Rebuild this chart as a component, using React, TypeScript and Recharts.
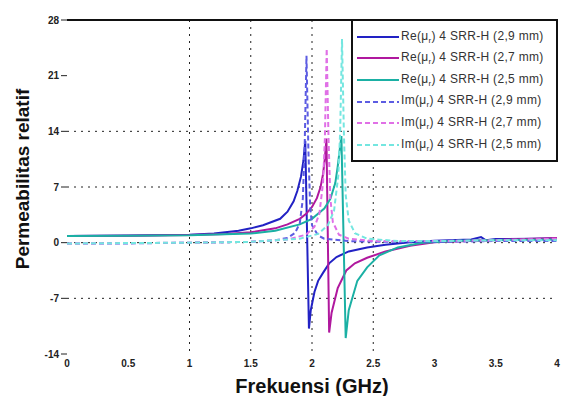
import { LineChart, Line, XAxis, YAxis, CartesianGrid, ReferenceLine } from 'recharts'

// frequency (GHz) / value pairs
const reBlueF = [0, 0.5, 1.0, 1.2, 1.4, 1.5, 1.6, 1.74, 1.8, 1.85, 1.88, 1.91, 1.93, 1.945, 1.975, 1.99, 2.02, 2.05, 2.09, 2.14, 2.2, 2.3, 2.45, 2.6, 2.8, 3.0, 3.3, 3.38, 3.42, 3.5, 3.8, 4.0]
const reBlueV = [0.85, 0.9, 1.0, 1.15, 1.5, 1.8, 2.2, 3.0, 3.9, 5.2, 6.5, 8.3, 10.3, 12.8, -10.8, -8.5, -6.2, -4.8, -3.8, -2.6, -1.8, -1.1, -0.6, -0.25, 0.05, 0.25, 0.4, 0.7, 0.3, 0.45, 0.5, 0.55]

const reMagF = [0, 0.5, 1.0, 1.3, 1.5, 1.7, 1.8, 1.9, 1.95, 2.0, 2.04, 2.07, 2.09, 2.105, 2.118, 2.14, 2.16, 2.21, 2.28, 2.35, 2.45, 2.6, 2.8, 3.0, 3.5, 4.0]
const reMagV = [0.85, 0.88, 0.95, 1.1, 1.3, 1.8, 2.3, 3.0, 3.6, 4.5, 5.6, 7.0, 8.6, 10.6, 13.1, -11.3, -8.8, -5.7, -3.5, -2.6, -1.9, -1.1, -0.4, 0.05, 0.35, 0.6]

const reCyanF = [0, 0.5, 1.0, 1.5, 1.7, 1.9, 2.0, 2.1, 2.15, 2.19, 2.21, 2.225, 2.24, 2.275, 2.3, 2.37, 2.45, 2.55, 2.7, 2.9, 3.2, 3.6, 4.0]
const reCyanV = [0.85, 0.88, 0.92, 1.15, 1.5, 2.3, 3.0, 4.3, 5.5, 7.5, 9.6, 11.5, 13.4, -12.0, -8.5, -4.8, -3.1, -1.6, -0.6, 0, 0.25, 0.35, 0.4]

const imBlueF = [0, 0.5, 1.0, 1.5, 1.7, 1.8, 1.86, 1.9, 1.925, 1.94, 1.955, 1.97, 1.985, 2.0, 2.05, 2.1, 2.3, 2.6, 3.0, 3.5, 4.0]
const imBlueV = [-0.1, -0.1, 0, 0.1, 0.3, 0.6, 1.2, 2.4, 5.5, 12, 23.5, 12, 4.5, 2.2, 0.9, 0.5, 0.2, 0.1, 0.1, 0.2, 0.2]

const imMagF = [0, 1.0, 1.5, 1.8, 1.95, 2.02, 2.06, 2.09, 2.105, 2.12, 2.135, 2.15, 2.17, 2.22, 2.3, 2.5, 3.0, 3.5, 4.0]
const imMagV = [-0.1, 0, 0.1, 0.4, 1.0, 2.0, 3.6, 7.5, 13, 24.4, 13, 5.5, 2.6, 1.0, 0.5, 0.2, 0.2, 0.3, 0.5]

const imCyanF = [0, 1.0, 1.5, 1.9, 2.05, 2.13, 2.18, 2.215, 2.23, 2.245, 2.26, 2.275, 2.3, 2.35, 2.45, 2.7, 3.0, 3.5, 4.0]
const imCyanV = [-0.1, 0, 0.1, 0.5, 1.1, 2.2, 4.0, 8.5, 14, 25.6, 14, 6.0, 2.8, 1.2, 0.5, 0.2, 0.2, 0.3, 0.3]

const xTicks = [0, 0.5, 1, 1.5, 2, 2.5, 3, 3.5, 4]
const yTicks = [-14, -7, 0, 7, 14, 21, 28]

const toRows = (f: number[], v: number[]) => f.map((x, i) => ({ f: x, v: v[i] }))

const SERIES = [
  { key: 'reB', part: 'Re', size: '2,9', data: toRows(reBlueF, reBlueV), color: '#2222c4', dash: undefined },
  { key: 'reM', part: 'Re', size: '2,7', data: toRows(reMagF, reMagV), color: '#b0189e', dash: undefined },
  { key: 'reC', part: 'Re', size: '2,5', data: toRows(reCyanF, reCyanV), color: '#1bb0a4', dash: undefined },
  { key: 'imB', part: 'Im', size: '2,9', data: toRows(imBlueF, imBlueV), color: '#5c5ce2', dash: '5 3' },
  { key: 'imM', part: 'Im', size: '2,7', data: toRows(imMagF, imMagV), color: '#e070e6', dash: '5 3' },
  { key: 'imC', part: 'Im', size: '2,5', data: toRows(imCyanF, imCyanV), color: '#74e6e0', dash: '5 3' },
]

const FONT = '"Liberation Sans", Arial, sans-serif'

// legend drawn as an overlay so the chart keeps its full plot height
function LegendBox() {
  return (
    <div
      style={{
        position: 'absolute',
        left: 351,
        top: 19,
        width: 207,
        border: '2px solid #111',
        background: '#fff',
        padding: '5px 2px 4px 4px',
        fontFamily: FONT,
        fontSize: 12,
        letterSpacing: 0.3,
        color: '#333',
        boxSizing: 'border-box',
      }}
    >
      {SERIES.map((s) => (
        <div key={s.key} style={{ display: 'flex', alignItems: 'center', height: 21.6 }}>
          <svg width={42} height={6} style={{ marginRight: 2, flexShrink: 0 }}>
            <line x1={0} y1={3} x2={42} y2={3} stroke={s.color} strokeWidth={2} strokeDasharray={s.dash} />
          </svg>
          <span style={{ whiteSpace: 'nowrap' }}>
            {s.part}(μ<sub style={{ fontSize: 8 }}>r</sub>) 4 SRR-H ({s.size} mm)
          </span>
        </div>
      ))}
    </div>
  )
}

export default function App() {
  return (
    <div style={{ position: 'absolute', left: 0, top: 0, width: 561, height: 396, background: '#fff' }}>
      <LineChart width={561} height={396} margin={{ top: 20, right: 4, bottom: 0, left: 0 }}>
        <CartesianGrid
          stroke="#222"
          strokeDasharray="2 5"
          horizontalValues={[14, 7, 0, -7]}
          verticalValues={[1, 1.5, 2, 2.5]}
        />
        <XAxis
          type="number"
          dataKey="f"
          domain={[0, 4]}
          ticks={xTicks}
          allowDuplicatedCategory={false}
          height={42}
          axisLine={false}
          tickLine={false}
          tickSize={4}
          tick={{ fontSize: 10, fill: '#222', fontWeight: 'bold', fontFamily: FONT }}
          label={{ value: 'Frekuensi (GHz)', position: 'insideBottom', offset: 3, style: { fontSize: 20, fontWeight: 'bold', fill: '#111', fontFamily: FONT } }}
        />
        <YAxis
          type="number"
          domain={[-14, 28]}
          ticks={yTicks}
          width={67}
          axisLine={false}
          tickLine={{ stroke: '#222' }}
          tickSize={6}
          tick={{ fontSize: 10, fill: '#222', fontWeight: 'bold', fontFamily: FONT }}
          label={{ value: 'Permeabilitas relatif', angle: -90, position: 'insideLeft', offset: 22, dy: -8, style: { fontSize: 19, fontWeight: 'bold', fill: '#111', fontFamily: FONT, textAnchor: 'middle' } }}
        />
        <ReferenceLine y={28} stroke="#111" strokeWidth={2} />
        {SERIES.map((s) => (
          <Line
            key={s.key}
            data={s.data}
            dataKey="v"
            type="linear"
            stroke={s.color}
            strokeWidth={2}
            strokeDasharray={s.dash}
            dot={false}
            isAnimationActive={false}
          />
        ))}
      </LineChart>
      <LegendBox />
    </div>
  )
}
